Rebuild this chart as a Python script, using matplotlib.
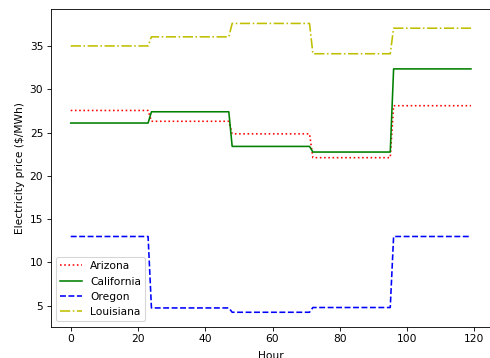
import numpy as np
import matplotlib
matplotlib.use("Agg")
import matplotlib.pyplot as plt

# daily price levels ($/MWh), each held for 24 hours
hours_per_day = 24
arizona_daily = [27.55, 26.3, 24.85, 22.1, 28.1]
california_daily = [26.1, 27.4, 23.4, 22.75, 32.35]
oregon_daily = [13.0, 4.75, 4.25, 4.8, 13.0]
louisiana_daily = [35.0, 36.05, 37.6, 34.1, 37.05]

hours = np.arange(len(arizona_daily) * hours_per_day)
arizona = np.repeat(arizona_daily, hours_per_day)
california = np.repeat(california_daily, hours_per_day)
oregon = np.repeat(oregon_daily, hours_per_day)
louisiana = np.repeat(louisiana_daily, hours_per_day)

# default 6.4in wide figure, rendered down to 490 px
dpi = 490 / 6.4
fig = plt.figure(figsize=(6.4, 358 / dpi), dpi=dpi)
ax = fig.add_axes([0.1035, 0.0874, 0.8985, 0.8875])

ax.plot(hours, arizona, 'r:', label='Arizona')
ax.plot(hours, california, 'g-', label='California')
ax.plot(hours, oregon, 'b--', label='Oregon')
ax.plot(hours, louisiana, 'y-.', label='Louisiana')

ax.set_xlabel('Hour', labelpad=6)
ax.set_ylabel('Electricity price ($/MWh)')
ax.legend(loc='lower left')

fig.savefig('out.png', dpi=dpi)
